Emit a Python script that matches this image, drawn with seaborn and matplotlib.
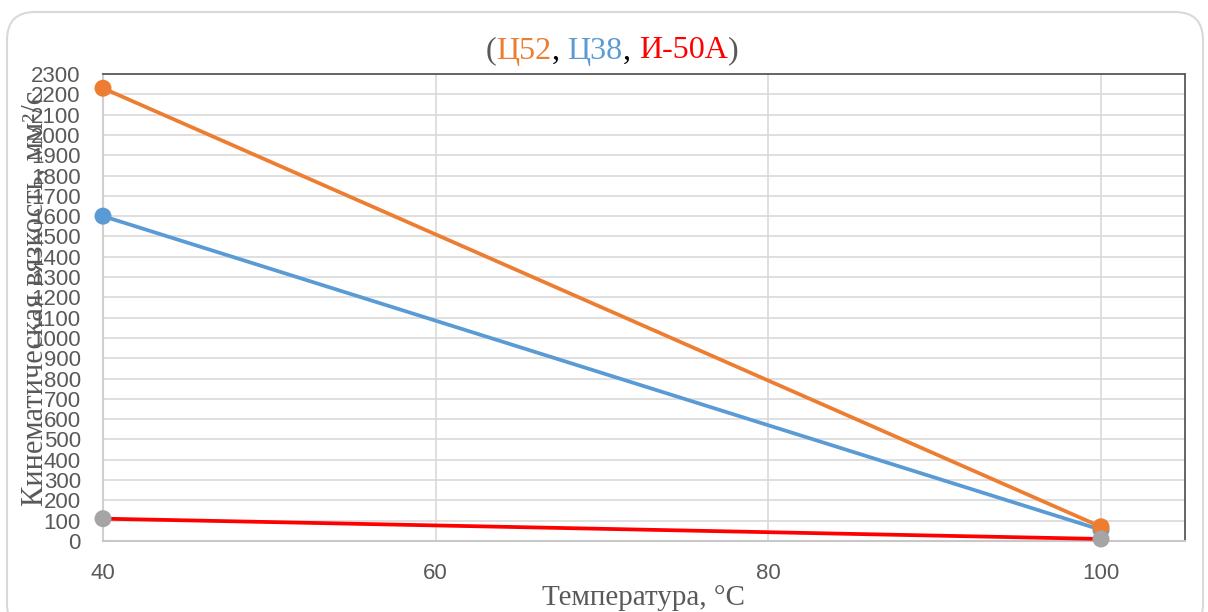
import matplotlib
matplotlib.use("Agg")
import matplotlib.pyplot as plt
from matplotlib.patches import FancyBboxPatch
import pandas as pd
import seaborn as sns

# Kinematic viscosity of three oils at two temperatures
temperatures = [40, 100]
oils = ["Ц52", "Ц38", "И-50А"]
visc_c52 = [2230, 70]
visc_c38 = [1600, 55]
visc_i50a = [110, 10]

y_ticks = list(range(0, 2301, 100))
x_ticks = [40, 60, 80, 100]

line_colors = {"Ц52": "#ED7D31", "Ц38": "#5B9BD5", "И-50А": "#FF0000"}
marker_colors = {"Ц52": "#ED7D31", "Ц38": "#5B9BD5", "И-50А": "#A5A5A5"}
text_gray = "#595959"

df = pd.DataFrame({
    "t": temperatures * 3,
    "v": visc_c52 + visc_c38 + visc_i50a,
    "oil": [oils[0]] * 2 + [oils[1]] * 2 + [oils[2]] * 2,
})

sns.set_theme(style="white")
plt.rcParams["font.family"] = ["Liberation Sans", "DejaVu Sans"]

fig = plt.figure(figsize=(12.08, 6.12), dpi=100)
ax = fig.add_axes([103 / 1208, 1 - 541 / 612, (1185 - 103) / 1208, (541 - 74) / 612])

# rounded chart-area border
frame = FancyBboxPatch((7, -20), 1196, 620, boxstyle="round,pad=0,rounding_size=28",
                       transform=None, facecolor="none", edgecolor="#D9D9D9",
                       linewidth=1.5, zorder=-1)
fig.patches.append(frame)

ax.set_facecolor("none")

draw_order = ["И-50А", "Ц38", "Ц52"]
for name, z in zip(draw_order, [3, 4, 5]):
    sub = df[df["oil"] == name]
    sns.lineplot(data=sub, x="t", y="v", ax=ax, color=line_colors[name],
                 linewidth=2.7, legend=False, zorder=z)
for name, z in zip(["Ц38", "Ц52", "И-50А"], [6, 7, 8]):
    sub = df[df["oil"] == name]
    sns.scatterplot(data=sub, x="t", y="v", ax=ax, color=marker_colors[name],
                    s=150, edgecolor="none", legend=False, zorder=z, clip_on=False)

ax.set_xlim(40, 105.05)
ax.set_ylim(0, 2300)
ax.set_xticks(x_ticks)
ax.set_yticks(y_ticks)
ax.set_xticklabels([str(v) for v in x_ticks])
ax.set_yticklabels([str(v) for v in y_ticks])
ax.tick_params(axis="both", length=0, labelsize=16, labelcolor=text_gray)
ax.tick_params(axis="y", pad=16)
ax.tick_params(axis="x", pad=16)

ax.grid(True, color="#D9D9D9", linewidth=1.2)
ax.set_axisbelow(True)

for side in ["top", "right"]:
    ax.spines[side].set_color("#595959")
    ax.spines[side].set_linewidth(1.3)
ax.spines["left"].set_color("#D0D0D0")
ax.spines["left"].set_linewidth(1.5)
ax.spines["bottom"].set_color("#C8C8C8")
ax.spines["bottom"].set_linewidth(1.5)
for s in ax.spines.values():
    s.set_zorder(2)

serif = ["Liberation Serif", "DejaVu Serif"]
ax.set_ylabel("Кинематическая вязкость, мм²/с", family=serif, fontsize=22, color=text_gray)
ax.yaxis.set_label_coords((35 - 103) / 1082, 0.52)
ax.yaxis.label.set_verticalalignment("center")
ax.set_xlabel("Температура, °С", family=serif, fontsize=21, color=text_gray)
ax.xaxis.set_label_coords(0.5, -(598 - 541) / 467)
ax.xaxis.label.set_verticalalignment("center")

# multi-coloured title
pieces = [("(", text_gray), ("Ц52", "#ED7D31"), (", ", "black"), ("Ц38", "#5B9BD5"),
          (", ", "black"), ("И-50А", "#FF0000"), (")", text_gray)]
renderer = fig.canvas.get_renderer()
texts = []
for s, c in pieces:
    t = fig.text(0, 1 - 51 / 612, s, family=serif, fontsize=23, color=c,
                 ha="left", va="center")
    texts.append(t)
widths = [t.get_window_extent(renderer).width for t in texts]
total = sum(widths)
start = 612 - total / 2
for t, w in zip(texts, widths):
    t.set_x(start / 1208)
    start += w

fig.savefig("out.png", dpi=100)
